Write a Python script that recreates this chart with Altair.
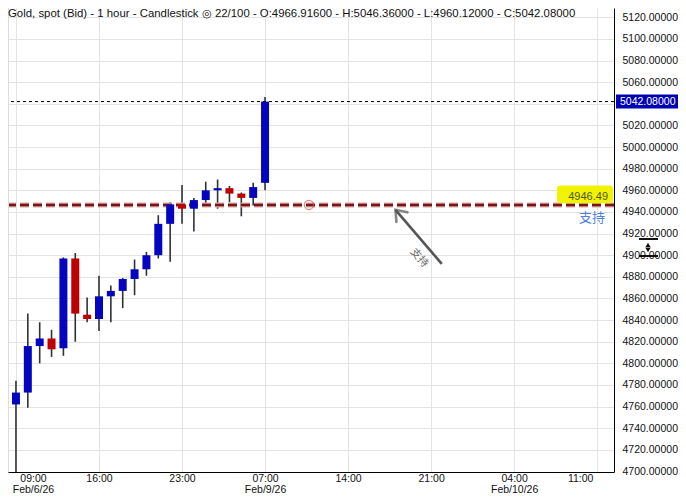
import json
import math
import altair as alt
import pandas as pd

# ---------------- data ----------------
bar_index = list(range(22))
opens  = [4762, 4773, 4816, 4823, 4814, 4897, 4845, 4841, 4862, 4867, 4878,
          4887, 4900, 4929, 4947, 4943, 4951, 4960, 4962, 4957, 4953, 4966.916]
highs  = [4784, 4846, 4838, 4831, 4898, 4902, 4861, 4881, 4872, 4879, 4896,
          4903, 4937, 4949, 4965, 4953, 4968, 4970, 4964, 4958, 4967, 5046.36]
lows   = [4690, 4759, 4800, 4806, 4807, 4820, 4838, 4830, 4838, 4851, 4863,
          4881, 4897, 4894, 4929, 4922, 4947, 4943, 4949, 4936, 4946, 4960.12]
closes = [4773, 4816, 4823, 4813, 4897, 4846, 4841, 4862, 4867, 4878, 4887,
          4900, 4929, 4947, 4943, 4951, 4960, 4962, 4957, 4953, 4963, 5042.08]

x_tick_pos = [0, 7, 14, 21, 28, 35, 42, 49]
x_tick_time = ["09:00", "16:00", "23:00", "07:00", "14:00", "21:00", "04:00", "11:00"]
x_tick_date = ["Feb/6/26", "", "", "Feb/9/26", "", "", "Feb/10/26", ""]
y_ticks = [4700, 4720, 4740, 4760, 4780, 4800, 4820, 4840, 4860, 4880, 4900,
           4920, 4940, 4960, 4980, 5000, 5020, 5040, 5060, 5080, 5100, 5120]

support_level = 4946.49
support_text = "支持"
last_close = 5042.08
marker_bar = [24.7]
arrow_tail = [35.9, 4892.0]
arrow_head = [32.0, 4942.0]
arrow_label_pos = [34.0, 4897.5]

header = ("Gold, spot (Bid) - 1 hour - Candlestick \u25ce 22/100 - O:4966.91600"
          " - H:5046.36000 - L:4960.12000 - C:5042.08000")

# ---------------- layout ----------------
W, H = 606, 464
X_DOM = [-0.25, 50.0]
Y_DOM = [4699.54, 5128.6]
FONT = "Liberation Sans"
CJK = "Noto Sans CJK SC"

df = pd.DataFrame({"i": bar_index, "open": opens, "high": highs,
                   "low": lows, "close": closes})
df["dir"] = ["up" if c >= o else "down" for o, c in zip(opens, closes)]

xs = alt.Scale(domain=X_DOM, nice=False, zero=False)
ys = alt.Scale(domain=Y_DOM, nice=False, zero=False)

lab_list = [[t, d] if d else [t] for t, d in zip(x_tick_time, x_tick_date)]
label_expr = json.dumps(lab_list) + "[round(datum.value / 7)]"

x_axis = alt.Axis(
    values=x_tick_pos, labelExpr=label_expr, title=None, ticks=False,
    domainColor="#000000", domainWidth=1, gridColor="#e3e3e3", grid=True,
    labelFont=FONT, labelFontSize=10.5, labelColor="#111111", labelPadding=1,
    labelLineHeight=11.5, labelOverlap=False, labelBaseline="top",
    labelOffset={"condition": [{"test": "datum.value == 0", "value": 17},
                               {"test": "datum.value == 49", "value": -17}],
                 "value": 0},
)
y_axis = alt.Axis(
    orient="right", values=y_ticks, format=".5f", title=None, ticks=False,
    domainColor="#000000", domainWidth=1, gridColor="#e3e3e3", grid=True,
    labelFont=FONT, labelFontSize=10.5, labelColor="#111111", labelPadding=8,
    labelOverlap=False,
    labelExpr="datum.value == 5040 ? '' : datum.label",
)


def X(field):
    return alt.X(field, scale=xs, axis=x_axis)


def Y(field):
    return alt.Y(field, scale=ys, axis=y_axis)


base = alt.Chart(df)

wicks = base.mark_rule(color="#2d3238", strokeWidth=1.6, clip=True).encode(
    x=X("i:Q"), y=Y("low:Q"), y2="high:Q",
)

bodies = base.mark_bar(size=8, orient="vertical", clip=True).encode(
    x=X("i:Q"), y=Y("open:Q"), y2="close:Q",
    color=alt.Color("dir:N", scale=alt.Scale(domain=["up", "down"],
                                             range=["#0505c0", "#c00000"]),
                    legend=None),
)

lvl = pd.DataFrame({"y": [support_level]})
last_df = pd.DataFrame({"y": [last_close], "txt": [f"{last_close:.5f}"],
                        "lo": [last_close - 6.5], "hi": [last_close + 6.5]})

last_line = alt.Chart(last_df).mark_rule(color="#000000", strokeWidth=1,
                                        strokeDash=[3, 3]).encode(y=Y("y:Q"))

support_halo = alt.Chart(lvl).mark_rule(color="#d9a3a3", strokeWidth=5,
                                       strokeDash=[9, 4]).encode(y=Y("y:Q"))
support_line = alt.Chart(lvl).mark_rule(color="#7a1414", strokeWidth=2.6,
                                       strokeDash=[9, 4]).encode(y=Y("y:Q"))

marker = alt.Chart(pd.DataFrame({"x": marker_bar, "y": [support_level]})).mark_point(
    shape="circle", size=85, filled=False, color="#e84a4a", strokeWidth=1.2
).encode(x=X("x:Q"), y=Y("y:Q"))

arrow_df = pd.DataFrame({"x": [arrow_tail[0]], "y": [arrow_tail[1]],
                         "x2": [arrow_head[0]], "y2": [arrow_head[1]]})
arrow = alt.Chart(arrow_df).mark_rule(color="#555555", strokeWidth=2.6).encode(
    x=X("x:Q"), y=Y("y:Q"), x2="x2:Q", y2="y2:Q")

px_x = W / (X_DOM[1] - X_DOM[0])
px_y = H / (Y_DOM[1] - Y_DOM[0])
dx = (arrow_head[0] - arrow_tail[0]) * px_x
dy = -(arrow_head[1] - arrow_tail[1]) * px_y
head_angle = (math.degrees(math.atan2(dx, -dy)) + 360) % 360

head = alt.Chart(pd.DataFrame({"x": [arrow_head[0]], "y": [arrow_head[1]]})).mark_point(
    shape="M -0.75 1 L 0 0 L 0.75 1", size=380, filled=False, color="#555555",
    strokeWidth=2.6, angle=head_angle, strokeCap="round", strokeJoin="miter"
).encode(x=X("x:Q"), y=Y("y:Q"))

text_angle = math.degrees(math.atan2(-dy, -dx))
arrow_text = alt.Chart(pd.DataFrame({"x": [arrow_label_pos[0]], "y": [arrow_label_pos[1]],
                                     "t": [support_text]})).mark_text(
    font=CJK, fontSize=10.5, color="#666666", angle=text_angle % 360
).encode(x=X("x:Q"), y=Y("y:Q"), text="t:N")

# yellow price tag for the support line
tag_df = pd.DataFrame({"lo": [support_level + 1.6], "hi": [support_level + 18.0],
                       "y": [support_level], "t": [f"{support_level:.2f}"],
                       "s": [support_text]})
tag_box = alt.Chart(tag_df).mark_rect(color="#f2f205", cornerRadius=3).encode(
    x=alt.value(549), x2=alt.value(605), y=Y("lo:Q"), y2="hi:Q")
tag_text = alt.Chart(tag_df).mark_text(
    font=FONT, fontSize=11, color="#4b5a14", align="right", dy=-8
).encode(x=alt.value(600), y=Y("y:Q"), text="t:N")
support_word = alt.Chart(tag_df).mark_text(
    font=CJK, fontSize=13, color="#4f7fe0", align="center", dy=13
).encode(x=alt.value(584), y=Y("y:Q"), text="s:N")

# current price box on the right axis
price_box = alt.Chart(last_df).mark_rect(color="#0000b4").encode(
    x=alt.value(608), x2=alt.value(670), y=Y("lo:Q"), y2="hi:Q")
price_text = alt.Chart(last_df).mark_text(
    font=FONT, fontSize=10.5, color="#ffffff", align="left"
).encode(x=alt.value(612), y=Y("y:Q"), text="txt:N")

# resize handle drawn over the price scale
handle_bars = alt.Chart(pd.DataFrame({"yy": [231, 248]})).mark_rule(
    color="#111111", strokeWidth=2).encode(
    x=alt.value(631), x2=alt.value(650), y=alt.Y("yy:Q", scale=None))
handle_tri = alt.Chart(pd.DataFrame({"yy": [237, 242],
                                     "sh": ["triangle-up", "triangle-down"]})).mark_point(
    filled=True, color="#111111", size=28, opacity=1).encode(
    x=alt.value(640), y=alt.Y("yy:Q", scale=None),
    shape=alt.Shape("sh:N", scale=None))

left_border = alt.Chart(pd.DataFrame({"a": [0]})).mark_rule(
    color="#dcdcdc", strokeWidth=2).encode(
    x=alt.value(0), y=alt.value(0), y2=alt.value(H))

head_text = alt.Chart(pd.DataFrame({"t": [header]})).mark_text(
    font=FONT, fontSize=11.4, color="#111111", align="left", baseline="top"
).encode(x=alt.value(0), y=alt.value(0), text="t:N")

chart = alt.layer(
    wicks, support_halo, support_line, last_line, bodies, marker,
    arrow, head, arrow_text, tag_box, tag_text, support_word,
    price_box, price_text, handle_bars, handle_tri, left_border, head_text,
).properties(
    width=W, height=H,
    autosize=alt.AutoSizeParams(type="none"),
    padding={"left": 0, "top": 0, "right": 64, "bottom": 24},
    background="#ffffff",
).configure_view(stroke=None)

chart.save("out.html", embed_options={"renderer": "svg", "actions": False})
